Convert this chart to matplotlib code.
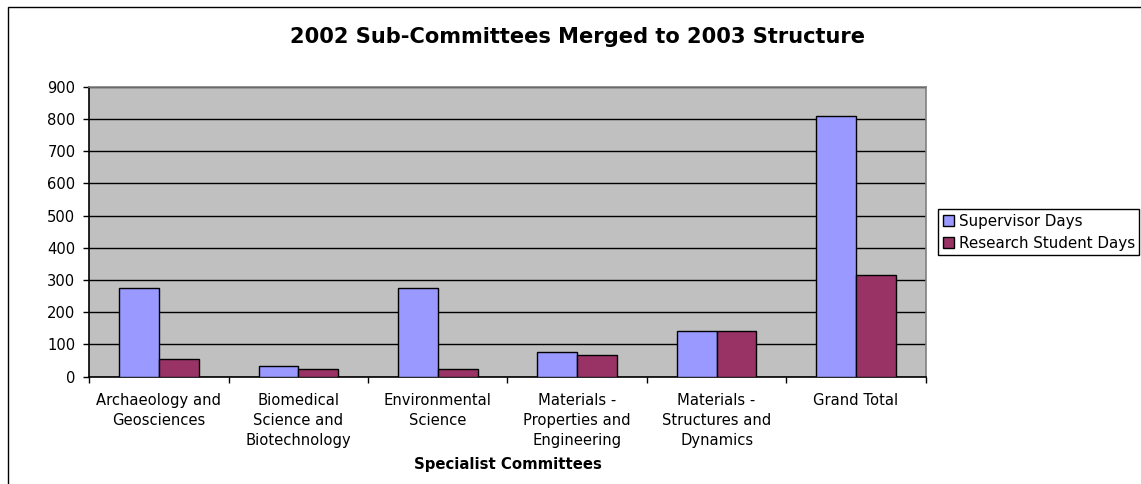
import matplotlib

matplotlib.use("Agg")
import matplotlib.pyplot as plt
import numpy as np
from matplotlib.patches import Rectangle

# Days per specialist committee, 2002 sub-committees merged to the 2003 structure.
committees = [
    "Archaeology and\nGeosciences",
    "Biomedical\nScience and\nBiotechnology",
    "Environmental\nScience",
    "Materials -\nProperties and\nEngineering",
    "Materials -\nStructures and\nDynamics",
    "Grand Total",
]
supervisor_days = [274, 34, 275, 78, 141, 809]
student_days = [55, 23, 25, 68, 141, 315]
series_names = ["Supervisor Days", "Research Student Days"]
y_ticks = [0, 100, 200, 300, 400, 500, 600, 700, 800, 900]

BLUE = "#9999FF"
PLUM = "#993366"
W, H = 1141, 484

plt.rcParams["font.family"] = ["DejaVu Sans"]

fig = plt.figure(figsize=(W / 100, H / 100), dpi=100)
fig.patch.set_facecolor("white")

# chart border (runs off the right and bottom edges)
fig.add_artist(Rectangle((8.3 / W, -0.1), 1.2, 1 - 7.3 / H + 0.1,
                         transform=fig.transFigure, fill=False,
                         edgecolor="black", linewidth=1.0))

ax = fig.add_axes([89.3 / W, 1 - 376.7 / H, 836.4 / W, 290.0 / H])
ax.set_facecolor("#C0C0C0")

x = np.arange(len(committees))
bw = 1 / 3.5
ax.bar(x - bw / 2, supervisor_days, bw, color=BLUE, edgecolor="black",
       linewidth=1.0, label=series_names[0], zorder=3)
ax.bar(x + bw / 2, student_days, bw, color=PLUM, edgecolor="black",
       linewidth=1.0, label=series_names[1], zorder=3)

ax.set_xlim(-0.5, len(committees) - 0.5)
ax.set_ylim(0, 900)
ax.set_yticks(y_ticks)
ax.yaxis.grid(True, color="black", linewidth=1.0, zorder=1)
ax.set_axisbelow(True)

ax.set_xticks(x)
ax.set_xticklabels(committees, fontsize=10.6, linespacing=1.42, va="top")
ax.set_xticks(np.arange(len(committees) + 1) - 0.5, minor=True)
ax.tick_params(axis="x", which="major", length=0, pad=12)
ax.tick_params(axis="x", which="minor", length=4, width=1, direction="out")
ax.tick_params(axis="y", length=4, width=1, pad=6, labelsize=10.6)

for side in ("left", "bottom"):
    ax.spines[side].set_color("black")
    ax.spines[side].set_linewidth(1.2)
for side in ("top", "right"):
    ax.spines[side].set_color("#808080")
    ax.spines[side].set_linewidth(1.2)

fig.text(578 / W, 1 - 37 / H, "2002 Sub-Committees Merged to 2003 Structure",
         ha="center", va="center", fontsize=15.1, fontweight="bold")
fig.text(507.5 / W, 1 - 465 / H, "Specialist Committees",
         ha="center", va="center", fontsize=10.7, fontweight="bold")

leg = ax.legend(loc="upper left", bbox_to_anchor=(938.3 / W, 1 - 209.3 / H),
                bbox_transform=fig.transFigure, fontsize=10.9,
                frameon=True, fancybox=False, framealpha=1,
                edgecolor="black", borderpad=0.3, labelspacing=0.45,
                handlelength=0.75, handleheight=0.75, handletextpad=0.3,
                borderaxespad=0)
leg.get_frame().set_linewidth(1.0)

fig.savefig("out.png", dpi=100)
